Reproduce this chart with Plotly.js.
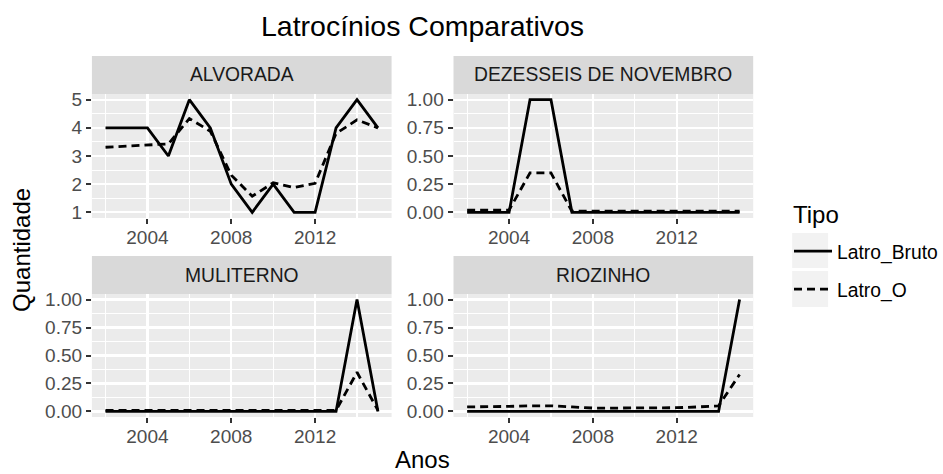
<!DOCTYPE html>
<html>
<head>
<meta charset="utf-8">
<script src="https://cdn.plot.ly/plotly-3.0.1.min.js"></script>
<style>html,body{margin:0;padding:0;background:#fff;} #chart{width:943px;height:474px;}</style>
</head>
<body>
<div id="chart"></div>
<script>
// ---- data ----
const years = [2002,2003,2004,2005,2006,2007,2008,2009,2010,2011,2012,2013,2014,2015];
const panels = ["ALVORADA","DEZESSEIS DE NOVEMBRO","MULITERNO","RIOZINHO"];
const seriesNames = ["Latro_Bruto","Latro_O"];
const alvoradaBruto = [4,4,4,3,5,4,2,1,2,1,1,4,5,4];
const alvoradaO     = [3.31,3.35,3.41,3.43,4.33,3.88,2.32,1.57,2.05,1.88,2.03,3.8,4.28,4.0];
const dezesseisBruto = [0,0,0,1,1,0,0,0,0,0,0,0,0,0];
const dezesseisO     = [0.02,0.02,0.02,0.35,0.35,0.01,0.01,0.01,0.01,0.01,0.01,0.01,0.01,0.01];
const muliternoBruto = [0,0,0,0,0,0,0,0,0,0,0,0,1,0];
const muliternoO     = [0.01,0.01,0.01,0.01,0.01,0.01,0.01,0.01,0.01,0.01,0.01,0.01,0.35,0.01];
const riozinhoBruto = [0,0,0,0,0,0,0,0,0,0,0,0,0,1];
const riozinhoO     = [0.04,0.04,0.045,0.05,0.05,0.04,0.03,0.03,0.03,0.03,0.033,0.04,0.05,0.33];
const xTicks = [2004,2008,2012];

// ---- layout helpers ----
const W = 943, H = 474;
const px = v => v / W;
const py = v => 1 - v / H;
const FONT = "Liberation Sans, Arial, sans-serif";
const colsX = [[92,392],[454,754]];
const rowsY = [[94,218],[294,417]];
const stripY = [[56,94],[256,294]];

const dataBruto = [alvoradaBruto, dezesseisBruto, muliternoBruto, riozinhoBruto];
const dataO = [alvoradaO, dezesseisO, muliternoO, riozinhoO];

const traces = [];
const layout = {
  width: W, height: H,
  margin: {l:0, r:0, t:0, b:0},
  paper_bgcolor: "#FFFFFF",
  plot_bgcolor: "#EBEBEB",
  font: {family: FONT, color: "#4D4D4D"},
  title: {text: "Latrocínios Comparativos", x: px(423), xanchor: "center", xref: "paper",
          y: 1 - 26/H, yanchor: "middle", yref: "container",
          font: {family: FONT, size: 28.5, color: "#000000"}},
  showlegend: true,
  legend: {x: px(790), xanchor: "left", y: py(232), yanchor: "top",
           bgcolor: "rgba(0,0,0,0)", font: {family: FONT, size: 19.3, color: "#000000"},
           tracegroupgap: 10, itemwidth: 38},
  shapes: [], annotations: []
};

for (let i = 0; i < 4; i++) {
  const c = i % 2, r = Math.floor(i / 2);
  const n = i + 1;
  const xa = "xaxis" + (n === 1 ? "" : n), ya = "yaxis" + (n === 1 ? "" : n);
  const xr = "x" + (n === 1 ? "" : n), yr = "y" + (n === 1 ? "" : n);
  const isAlv = i === 0;
  layout[xa] = {
    domain: [px(colsX[c][0]), px(colsX[c][1])], anchor: yr,
    range: [2001.35, 2015.65], tickmode: "array", tickvals: xTicks,
    ticks: "outside", ticklen: 5, tickwidth: 2, tickcolor: "#333333", ticklabelstandoff: -3,
    tickfont: {family: FONT, size: 19, color: "#4D4D4D"},
    showgrid: true, gridcolor: "#FFFFFF", gridwidth: 2.2, zeroline: false, showline: false,
    minor: {tickmode: "array", tickvals: [2002,2006,2010,2014], showgrid: true, gridcolor: "#FFFFFF", gridwidth: 1.1, ticks: ""},
    fixedrange: true
  };
  layout[ya] = {
    domain: [py(rowsY[r][1]), py(rowsY[r][0])], anchor: xr,
    range: isAlv ? [0.8, 5.2] : [-0.05, 1.05],
    tickmode: "array",
    tickvals: isAlv ? [1,2,3,4,5] : [0,0.25,0.5,0.75,1],
    ticktext: isAlv ? ["1","2","3","4","5"] : ["0.00","0.25","0.50","0.75","1.00"],
    ticks: "outside", ticklen: 5, tickwidth: 2, tickcolor: "#333333",
    tickfont: {family: FONT, size: 19, color: "#4D4D4D"},
    showgrid: true, gridcolor: "#FFFFFF", gridwidth: 2.2, zeroline: false, showline: false,
    minor: {tickmode: "array", tickvals: isAlv ? [1.5,2.5,3.5,4.5] : [0.125,0.375,0.625,0.875],
            showgrid: true, gridcolor: "#FFFFFF", gridwidth: 1.1, ticks: ""},
    fixedrange: true
  };
  traces.push({x: years, y: dataBruto[i], xaxis: xr, yaxis: yr, type: "scatter", mode: "lines",
    name: seriesNames[0], legendgroup: "a", showlegend: i === 0,
    line: {color: "#000000", width: 2.8}});
  traces.push({x: years, y: dataO[i], xaxis: xr, yaxis: yr, type: "scatter", mode: "lines",
    name: seriesNames[1], legendgroup: "b", showlegend: i === 0,
    line: {color: "#000000", width: 2.8, dash: "8px,5px"}});
  // strip
  layout.shapes.push({type: "rect", xref: "paper", yref: "paper", layer: "below",
    x0: px(colsX[c][0]), x1: px(colsX[c][1]), y0: py(stripY[r][1]), y1: py(stripY[r][0]),
    fillcolor: "#D9D9D9", line: {width: 0}});
  layout.annotations.push({xref: "paper", yref: "paper", showarrow: false,
    x: px((colsX[c][0] + colsX[c][1]) / 2), y: py((stripY[r][0] + stripY[r][1]) / 2),
    xanchor: "center", yanchor: "middle", text: panels[i],
    font: {family: FONT, size: 19.3, color: "#1A1A1A"}});
}

// legend key backgrounds
[[233,268],[271,307]].forEach(b => layout.shapes.push({type: "rect", xref: "paper", yref: "paper", layer: "below",
  x0: px(793), x1: px(829), y0: py(b[1]), y1: py(b[0]), fillcolor: "#F2F2F2", line: {width: 0}}));

// legend title and axis titles
layout.annotations.push({xref: "paper", yref: "paper", showarrow: false, x: px(792), y: py(214),
  xanchor: "left", yanchor: "middle", text: "Tipo", font: {family: FONT, size: 24, color: "#000000"}});
layout.annotations.push({xref: "paper", yref: "paper", showarrow: false, x: px(423), y: py(474),
  xanchor: "center", yanchor: "bottom", borderpad: 0, text: "Anos", font: {family: FONT, size: 24, color: "#000000"}});
layout.annotations.push({xref: "paper", yref: "paper", showarrow: false, x: px(21), y: py(250),
  xanchor: "center", yanchor: "middle", textangle: -90, text: "Quantidade",
  font: {family: FONT, size: 24, color: "#000000"}});

Plotly.newPlot("chart", traces, layout, {displayModeBar: false, staticPlot: true});
</script>
</body>
</html>
